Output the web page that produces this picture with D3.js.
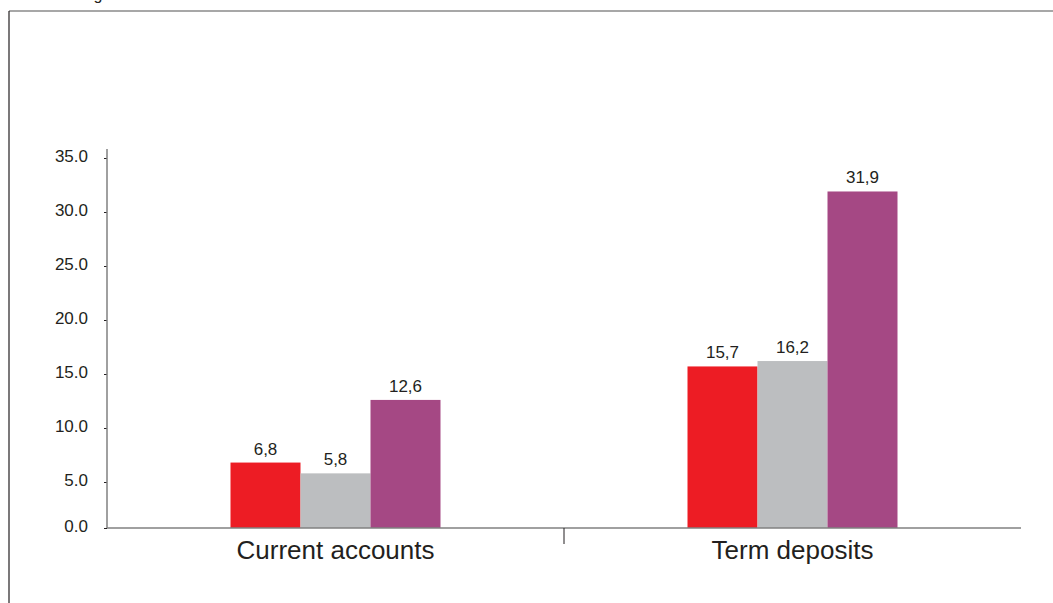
<!DOCTYPE html>
<html>
<head>
<meta charset="utf-8">
<script src="https://cdn.jsdelivr.net/npm/d3@7"></script>
<style>
  html, body { margin: 0; padding: 0; background: #fff; }
  svg { display: block; font-family: "Liberation Sans", Arial, Helvetica, sans-serif; }
</style>
</head>
<body>
<svg id="chart" width="1053" height="603"></svg>
<script>
const categories = ["Current accounts", "Term deposits"];
const seriesNames = ["Series 1", "Series 2", "Series 3"];
const series1 = [6.8, 15.7];
const series2 = [5.8, 16.2];
const series3 = [12.6, 31.9];
const valueLabels = [["6,8", "5,8", "12,6"], ["15,7", "16,2", "31,9"]];
const yTicks = [0, 5, 10, 15, 20, 25, 30, 35];
const colors = ["#ED1C24", "#BCBEC0", "#A54884"];

const svg = d3.select("#chart");
const W = 1053, H = 603;

// frame
svg.append("line").attr("x1", 9).attr("x2", W).attr("y1", 11).attr("y2", 11)
  .attr("stroke", "#8a8a8a").attr("stroke-width", 1.5);
svg.append("line").attr("x1", 9).attr("x2", 9).attr("y1", 11).attr("y2", H)
  .attr("stroke", "#231F20").attr("stroke-width", 1.2);
// cut-off title remnant
svg.append("text").attr("x", 98).attr("y", 0).attr("text-anchor", "middle")
  .attr("font-size", 16).attr("fill", "#231F20").text("g");

const x0 = d3.scaleBand().domain(categories).range([107, 1021]).padding(0);
const groupW = 210;
const x1 = d3.scaleBand().domain(seriesNames)
  .range([x0.bandwidth() / 2 - groupW / 2, x0.bandwidth() / 2 + groupW / 2]).padding(0);
const y = d3.scaleLinear().domain([0, 5, 35]).range([528, 482, 158]);

const data = categories.map((c, i) => ({
  cat: c,
  vals: [series1[i], series2[i], series3[i]].map((v, j) => ({ s: seriesNames[j], v, label: valueLabels[i][j], color: colors[j] }))
}));

const g = svg.append("g");
const groups = g.selectAll("g.grp").data(data).join("g")
  .attr("transform", d => `translate(${x0(d.cat)},0)`);
groups.selectAll("rect").data(d => d.vals).join("rect")
  .attr("x", d => x1(d.s)).attr("width", x1.bandwidth())
  .attr("y", d => y(d.v)).attr("height", d => y(0) - y(d.v))
  .attr("fill", d => d.color);
groups.selectAll("text.val").data(d => d.vals).join("text")
  .attr("class", "val")
  .attr("x", d => x1(d.s) + x1.bandwidth() / 2)
  .attr("y", d => y(d.v) - 8)
  .attr("text-anchor", "middle").attr("font-size", 17).attr("fill", "#231F20")
  .text(d => d.label);

// y axis
const yAxis = d3.axisLeft(y).tickValues(yTicks).tickFormat(d3.format(".1f")).tickSize(3).tickPadding(16);
const ya = svg.append("g").attr("transform", "translate(107,0)").call(yAxis);
ya.select(".domain").remove();
ya.selectAll(".tick line").attr("stroke", "#231F20");
ya.selectAll(".tick text").attr("font-size", 17).attr("fill", "#231F20")
  .attr("font-family", "Liberation Sans, Arial, sans-serif").attr("dy", "0.2em");
svg.append("line").attr("x1", 107).attr("x2", 107).attr("y1", 149).attr("y2", 528)
  .attr("stroke", "#808080").attr("stroke-width", 1.5);

// x axis
svg.append("line").attr("x1", 107).attr("x2", 1021).attr("y1", 528).attr("y2", 528)
  .attr("stroke", "#808080").attr("stroke-width", 1.5);
svg.append("line").attr("x1", x0.range()[0] + x0.step()).attr("x2", x0.range()[0] + x0.step())
  .attr("y1", 528).attr("y2", 544).attr("stroke", "#231F20").attr("stroke-width", 1);
svg.selectAll("text.cat").data(categories).join("text")
  .attr("class", "cat")
  .attr("x", d => x0(d) + x0.bandwidth() / 2)
  .attr("y", 559)
  .attr("text-anchor", "middle").attr("font-size", 26).attr("fill", "#231F20")
  .text(d => d);
</script>
</body>
</html>
